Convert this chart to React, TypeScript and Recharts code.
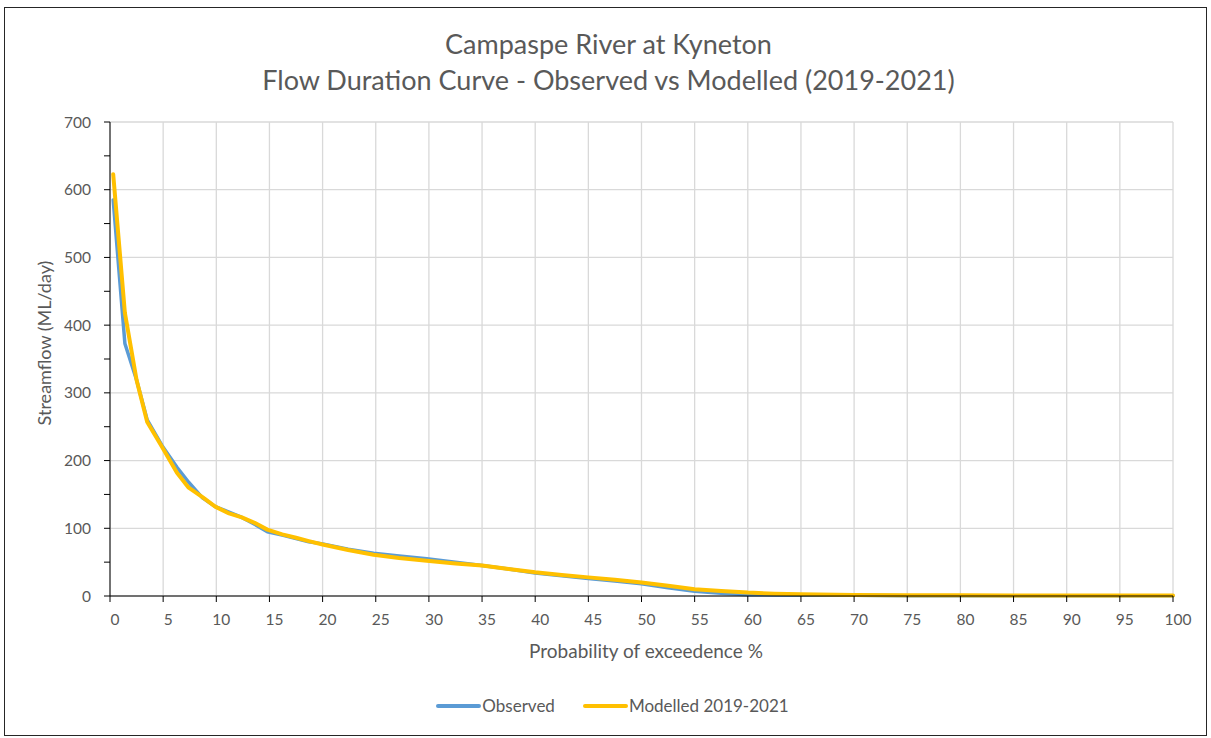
import React from 'react';
import { LineChart, Line, XAxis, YAxis, CartesianGrid, Legend } from 'recharts';

// probability of exceedence (%) for each point on the curve
const exceedance = [
  0.3, 1.4, 2.5, 3.5, 4.9, 6.3, 7.4, 8.7, 9.9, 11.2, 12.4, 13.6, 14.8, 16.2, 17.5, 18.7, 20,
  22.4, 24.8, 27.2, 29.8, 32.5, 35, 37.5, 40, 42.5, 45, 47.5, 50, 52.5, 55, 57.5, 60, 62.5, 65,
  70, 75, 80, 85, 90, 95, 100,
];
// streamflow ML/day
const observed = [
  585, 373, 319, 260, 222, 190, 168, 145, 132, 124, 116, 106, 95, 90, 85, 80, 77,
  69, 63, 59, 55, 50, 45, 40, 34, 30, 26, 22, 18, 12, 7, 4, 2, 1.5, 1,
  1, 0.5, 0.5, 0.3, 0.3, 0.2, 0.2,
];
const modelled = [
  623, 418, 319, 257, 220, 182, 160, 146, 132, 122, 116, 108, 98, 91, 86, 81, 76,
  68, 61, 56, 52, 48, 45, 40, 35, 31, 27.5, 24, 20, 15, 10, 7.5, 5, 3.5, 2.5,
  1.5, 1, 1, 0.8, 0.7, 0.7, 0.7,
];

const xTicks = [0, 5, 10, 15, 20, 25, 30, 35, 40, 45, 50, 55, 60, 65, 70, 75, 80, 85, 90, 95, 100];
const yTicks = [0, 50, 100, 150, 200, 250, 300, 350, 400, 450, 500, 550, 600, 650, 700];
const yMajor = [0, 100, 200, 300, 400, 500, 600, 700];

const series = [
  { key: 'observed', name: 'Observed', color: '#5B9BD5', width: 3.5 },
  { key: 'modelled', name: 'Modelled 2019-2021', color: '#FFC000', width: 4 },
];

const font = 'Lato, "Open Sans", sans-serif';
const textColor = '#595959';

const data = exceedance.map((x, i) => ({ x, observed: observed[i], modelled: modelled[i] }));

const XTick = (props: any) => {
  const { x, y, payload } = props;
  return (
    <text x={x + 5} y={y} dy="0.71em" textAnchor="middle" fill={textColor} fontSize={15.5} fontFamily={font}>
      {payload.value}
    </text>
  );
};

const YTick = (props: any) => {
  const { x, y, payload } = props;
  if (payload.value % 100 !== 0) return null;
  return (
    <text x={x} y={y} dy="0.355em" textAnchor="end" fill={textColor} fontSize={15.5} fontFamily={font}>
      {payload.value}
    </text>
  );
};

const renderLegend = () => (
  <div style={{ display: 'flex', justifyContent: 'center', alignItems: 'center', fontFamily: font, fontSize: 17, color: textColor }}>
    {series.map((s, i) => (
      <span key={s.key} style={{ display: 'flex', alignItems: 'center', marginLeft: i ? 28 : 0 }}>
        <svg width={45} height={10}>
          <line x1={2} y1={5} x2={43} y2={5} stroke={s.color} strokeWidth={4} strokeLinecap="round" />
        </svg>
        <span style={{ marginLeft: 1 }}>{s.name}</span>
      </span>
    ))}
  </div>
);

export default function App() {
  return (
    <div style={{ position: 'absolute', left: 0, top: 0, width: 1211, height: 738, background: '#fff' }}>
      <div
        style={{
          position: 'absolute', left: 4, top: 7, width: 1203, height: 729,
          boxSizing: 'border-box', border: '1px solid #262626',
        }}
      />
      <div
        style={{
          position: 'absolute', left: 3, top: 26, width: 1211, textAlign: 'center',
          fontFamily: font, fontSize: 27, lineHeight: '36px', color: textColor,
        }}
      >
        <div>Campaspe River at Kyneton</div>
        <div>Flow Duration Curve - Observed vs Modelled (2019-2021)</div>
      </div>
      <div
        style={{
          position: 'absolute', left: 0, top: 639, width: 1292, lineHeight: '24px', textAlign: 'center',
          fontFamily: font, fontSize: 19, color: textColor,
        }}
      >
        Probability of exceedence %
      </div>
      <div
        style={{
          position: 'absolute', left: -106, top: 331, width: 300, height: 24, lineHeight: '24px',
          textAlign: 'center', transform: 'rotate(-90deg)', fontFamily: font, fontSize: 18, color: textColor,
        }}
      >
        Streamflow (ML/day)
      </div>
      <LineChart width={1211} height={738} data={data} margin={{ top: 122, right: 38, bottom: 112, left: 40 }}>
        <CartesianGrid stroke="#D9D9D9" strokeWidth={1.3} horizontalValues={yMajor} />
        <XAxis
          dataKey="x"
          type="number"
          domain={[0, 100]}
          ticks={xTicks}
          interval={0}
          height={30}
          tickSize={6}
          tickMargin={12}
          axisLine={{ stroke: '#000' }}
          tickLine={{ stroke: '#000' }}
          tick={XTick}
        />
        <YAxis
          type="number"
          domain={[0, 700]}
          ticks={yTicks}
          interval={0}
          width={70}
          tickSize={6}
          tickMargin={13}
          axisLine={{ stroke: '#000' }}
          tickLine={{ stroke: '#000' }}
          tick={YTick}
        />
        <Legend
          layout="horizontal"
          verticalAlign="middle"
          content={renderLegend}
          wrapperStyle={{ position: 'absolute', top: 695, left: 0, width: 1225, height: 24 }}
        />
        {series.map((s) => (
          <Line
            key={s.key}
            type="linear"
            dataKey={s.key}
            name={s.name}
            stroke={s.color}
            strokeWidth={s.width}
            strokeLinecap="round"
            strokeLinejoin="round"
            dot={false}
            activeDot={false}
            isAnimationActive={false}
          />
        ))}
      </LineChart>
    </div>
  );
}
